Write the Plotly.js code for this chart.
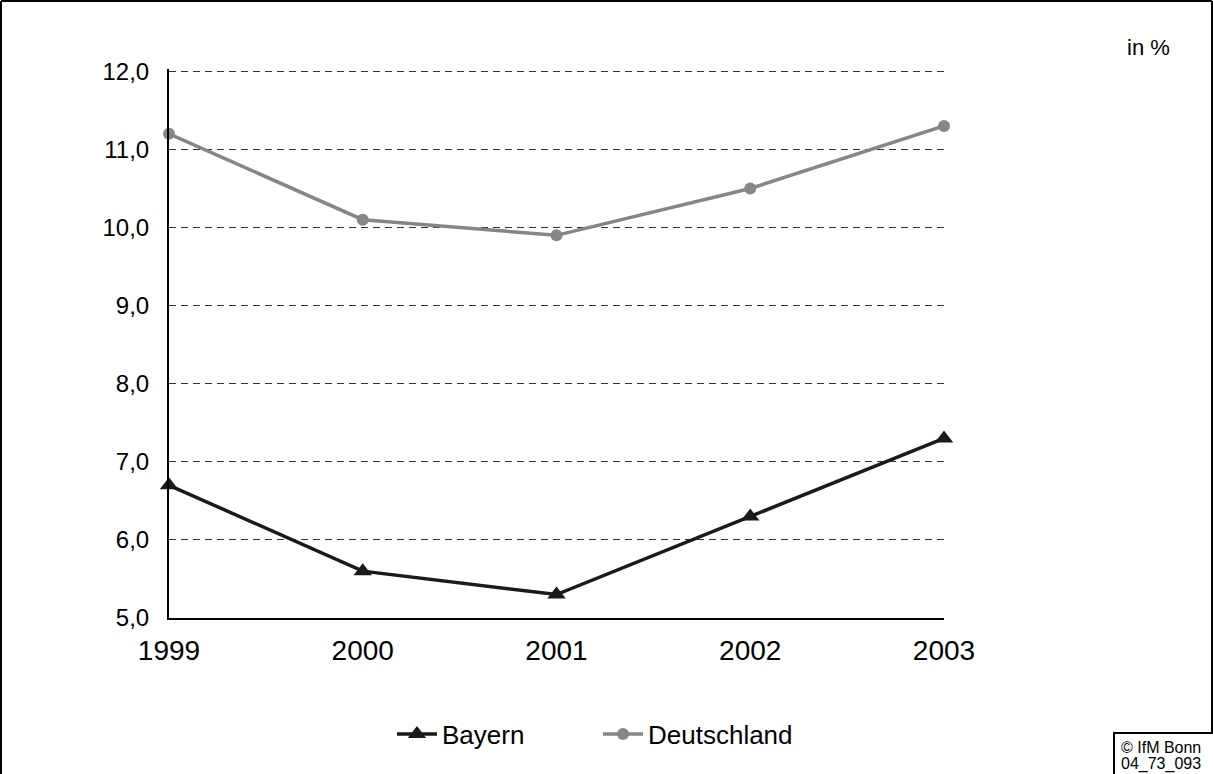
<!DOCTYPE html>
<html>
<head>
<meta charset="utf-8">
<script src="https://cdn.plot.ly/plotly-3.0.1.min.js"></script>
<style>html,body{margin:0;padding:0;background:#fff;}#chart{width:1213px;height:774px;}</style>
</head>
<body>
<div id="chart"></div>
<script>
const years = ['1999', '2000', '2001', '2002', '2003'];
const bayern = [6.7, 5.6, 5.3, 6.3, 7.3];
const deutschland = [11.2, 10.1, 9.9, 10.5, 11.3];
const yTickVals = [5, 6, 7, 8, 9, 10, 11, 12];
const yTickText = ['5,0', '6,0', '7,0', '8,0', '9,0', '10,0', '11,0', '12,0'];

const W = 1213, H = 774;
const M = {l: 169, r: 269, t: 69, b: 156};
const pw = W - M.l - M.r, ph = H - M.t - M.b;
const px = x => (x - M.l) / pw;
const py = y => (H - M.b - y) / ph;

const font = 'Arial, "Liberation Sans", sans-serif';

const traces = [
  {
    x: years, y: bayern, name: 'Bayern', type: 'scatter', mode: 'lines+markers',
    cliponaxis: false,
    line: {color: '#1a1a1a', width: 3.5},
    marker: {symbol: 'triangle-up', size: 16, color: '#1a1a1a'}
  },
  {
    x: years, y: deutschland, name: 'Deutschland', type: 'scatter', mode: 'lines+markers',
    cliponaxis: false,
    line: {color: '#868686', width: 3.5},
    marker: {symbol: 'circle', size: 12, color: '#868686'}
  }
];

const layout = {
  width: W, height: H,
  margin: M,
  paper_bgcolor: '#fff', plot_bgcolor: '#fff',
  font: {family: font, color: '#000'},
  showlegend: true,
  legend: {
    orientation: 'h', x: px(392), xanchor: 'left', y: py(734), yanchor: 'middle',
    font: {size: 26, family: font}, itemwidth: 40, traceorder: 'normal',
    entrywidth: 151, entrywidthmode: 'pixels'
  },
  xaxis: {
    type: 'category', range: [0, 4],
    showgrid: false, zeroline: false, showline: true, linecolor: '#000', linewidth: 2,
    ticks: '', tickfont: {size: 28, family: font}, ticklabelstandoff: 6
  },
  yaxis: {
    range: [5, 12.03], tickvals: yTickVals, ticktext: yTickText,
    showgrid: true, gridcolor: '#333', griddash: '7px,5px', gridwidth: 1,
    zeroline: false, showline: true, linecolor: '#000', linewidth: 2,
    ticks: '', tickfont: {size: 24, family: font}, ticklabelstandoff: 13
  },
  shapes: [
    {type: 'line', xref: 'paper', yref: 'paper', x0: px(1), x1: px(1), y0: py(1), y1: py(780), line: {color: '#000', width: 2}},
    {type: 'line', xref: 'paper', yref: 'paper', x0: px(1), x1: px(1212), y0: py(1), y1: py(1), line: {color: '#000', width: 2}},
    {type: 'line', xref: 'paper', yref: 'paper', x0: px(1212), x1: px(1212), y0: py(1), y1: py(780), line: {color: '#000', width: 2}},
    {type: 'rect', xref: 'paper', yref: 'paper', x0: px(1114), x1: px(1214), y0: py(733), y1: py(790), line: {color: '#000', width: 2}, fillcolor: '#fff'}
  ],
  annotations: [
    {text: 'in %', xref: 'paper', yref: 'paper', x: px(1125), y: py(48), xanchor: 'left', yanchor: 'middle', showarrow: false, font: {size: 22, family: font}},
    {text: '© IfM Bonn', xref: 'paper', yref: 'paper', x: px(1119), y: py(747), xanchor: 'left', yanchor: 'middle', showarrow: false, font: {size: 16, family: font}},
    {text: '04_73_093', xref: 'paper', yref: 'paper', x: px(1119), y: py(764), xanchor: 'left', yanchor: 'middle', showarrow: false, font: {size: 16, family: font}}
  ]
};

Plotly.newPlot('chart', traces, layout, {displayModeBar: false, staticPlot: true});
</script>
</body>
</html>
